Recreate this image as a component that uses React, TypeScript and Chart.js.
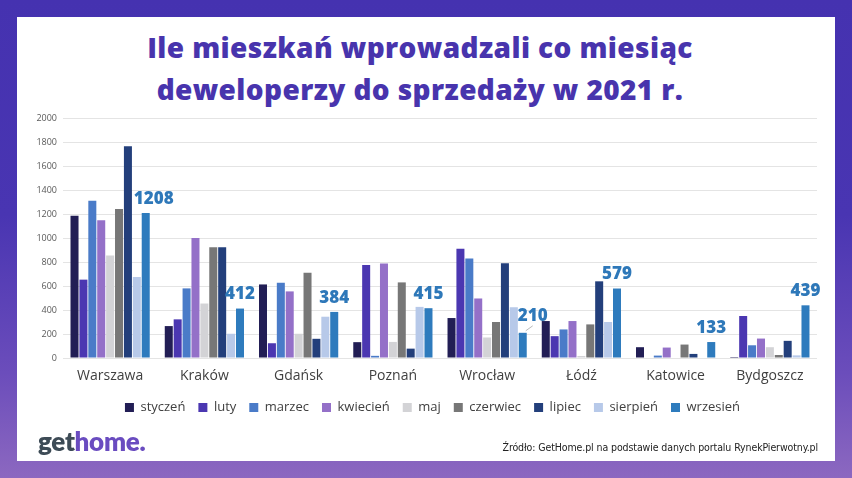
import React, { useEffect, useRef } from "react";
import { Chart, registerables } from "chart.js";

Chart.register(...registerables);

const cities = ["Warszawa", "Kraków", "Gdańsk", "Poznań", "Wrocław", "Łódź", "Katowice", "Bydgoszcz"];
const months = ["styczeń", "luty", "marzec", "kwiecień", "maj", "czerwiec", "lipiec", "sierpień", "wrzesień"];

const styczen = [1185, 266, 613, 132, 333, 308, 90, 8];
const luty = [653, 322, 123, 776, 910, 182, 0, 350];
const marzec = [1311, 580, 627, 18, 829, 238, 20, 106];
const kwiecien = [1148, 1000, 555, 787, 496, 308, 87, 162];
const maj = [854, 454, 202, 134, 171, 17, 0, 90];
const czerwiec = [1241, 922, 711, 630, 300, 280, 112, 25];
const lipiec = [1765, 922, 160, 78, 790, 639, 34, 143];
const sierpien = [675, 202, 344, 426, 423, 300, 0, 22];
const wrzesien = [1208, 412, 384, 415, 210, 579, 133, 439];

const series = [styczen, luty, marzec, kwiecien, maj, czerwiec, lipiec, sierpien, wrzesien];
const colors = ["#221e55", "#4b37b1", "#4a7bc8", "#9470c8", "#d3d3d6", "#777777", "#233f7b", "#b7c9e9", "#2e7bbd"];

const yMin = 0;
const yMax = 2000;
const yStep = 200;

const FONT = "'Open Sans', 'DejaVu Sans', sans-serif";

const labelPlugin = {
  id: "lastSeriesLabels",
  afterLayout(chart: any) {
    if (chart.legend) {
      chart.legend.left += 10;
      chart.legend.right += 10;
    }
  },
  afterDatasetsDraw(chart: any) {
    const last = chart.data.datasets.length - 1;
    const meta = chart.getDatasetMeta(last);
    const ctx = chart.ctx;
    ctx.save();
    ctx.font = `800 17px ${FONT}`;
    ctx.fillStyle = "#2e78b9";
    ctx.textAlign = "center";
    ctx.textBaseline = "middle";
    meta.data.forEach((bar: any, i: number) => {
      let dx = 0;
      let dy = -14;
      if (i === 0) dx = 8;
      if (i === 4) {
        dx = 10;
        dy = -17;
        ctx.strokeStyle = "#a8a8a8";
        ctx.lineWidth = 0.8;
        ctx.beginPath();
        ctx.moveTo(bar.x + 3, bar.y - 2);
        ctx.lineTo(bar.x + 10, bar.y - 7);
        ctx.stroke();
      }
      ctx.fillText(String(chart.data.datasets[last].data[i]), bar.x + dx, bar.y + dy);
    });
    ctx.restore();
  },
};

function BarChart() {
  const ref = useRef<HTMLCanvasElement | null>(null);
  useEffect(() => {
    if (!ref.current) return;
    const chart = new Chart(ref.current, {
      type: "bar",
      data: {
        labels: cities,
        datasets: series.map((d, i) => ({
          label: months[i],
          data: d,
          backgroundColor: colors[i],
          borderWidth: 0,
          barPercentage: 0.9,
          categoryPercentage: 0.85,
        })),
      },
      options: {
        responsive: false,
        animation: false,
        devicePixelRatio: 1,
        layout: { padding: { left: 28, right: 35, top: 118, bottom: 54 } },
        plugins: {
          title: { display: false },
          tooltip: { enabled: false },
          legend: {
            position: "bottom",
            labels: {
              boxWidth: 9,
              boxHeight: 9,
              padding: 13,
              color: "#404040",
              font: { family: FONT, size: 13 },
            },
          },
        },
        scales: {
          x: {
            grid: { display: false, drawTicks: false },
            border: { display: false },
            ticks: { color: "#404040", font: { family: FONT, size: 14 }, padding: 10 },
            afterFit: (s: any) => {
              s.height = 30;
            },
          },
          y: {
            min: yMin,
            max: yMax,
            grid: { color: "#e4e4e4", lineWidth: 1, drawTicks: false },
            border: { display: false },
            ticks: {
              stepSize: yStep,
              color: "#595959",
              font: { family: FONT, size: 9 },
              padding: 6,
              callback: (v: any) => String(v),
            },
            afterFit: (s: any) => {
              s.width = 35;
            },
          },
        },
      },
      plugins: [labelPlugin],
    });
    return () => chart.destroy();
  }, []);
  return <canvas ref={ref} width={852} height={478} style={{ position: "absolute", left: 0, top: 0 }} />;
}

export default function App() {
  return (
    <div
      style={{
        position: "fixed",
        left: 0,
        top: 0,
        width: 852,
        height: 478,
        overflow: "hidden",
        background: "linear-gradient(180deg, #4532b0 0%, #4935b2 45%, #6b4dbb 78%, #8c68c0 100%)",
      }}
    >
      <div style={{ position: "absolute", left: 17, top: 17, width: 818, height: 444, background: "#ffffff" }} />
      <div
        style={{
          position: "absolute",
          left: 0,
          top: 26,
          width: 840,
          textAlign: "center",
          fontFamily: FONT,
          fontWeight: 800,
          fontSize: 28,
          lineHeight: "42px",
          color: "#4834ad",
          letterSpacing: 0.4,
        }}
      >
        Ile mieszkań wprowadzali co miesiąc
        <br />
        deweloperzy do sprzedaży w 2021 r.
      </div>
      <BarChart />
      <div
        style={{
          position: "absolute",
          left: 38,
          top: 425,
          fontFamily: "Lato, 'Open Sans', sans-serif",
          fontWeight: 800,
          fontSize: 26,
          lineHeight: "32px",
          letterSpacing: -0.3,
        }}
      >
        <span style={{ color: "#3d4b56" }}>get</span>
        <span style={{ color: "#6a4cc0" }}>home.</span>
      </div>
      <div
        style={{
          position: "absolute",
          right: 34,
          top: 440,
          fontFamily: "'DejaVu Sans Condensed', 'Liberation Sans Narrow', 'DejaVu Sans', sans-serif",
          fontStretch: "condensed",
          fontSize: 10.5,
          letterSpacing: -0.1,
          lineHeight: "14px",
          color: "#222222",
          whiteSpace: "nowrap",
        }}
      >
        Źródło: GetHome.pl na podstawie danych portalu RynekPierwotny.pl
      </div>
    </div>
  );
}
